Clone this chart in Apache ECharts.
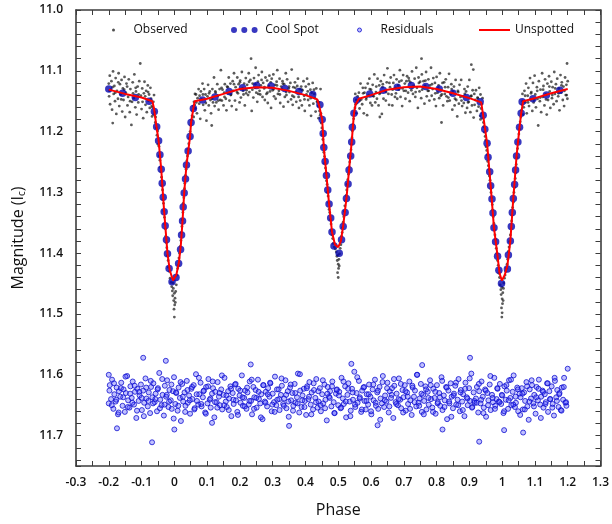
<!DOCTYPE html>
<html>
<head>
<meta charset="utf-8">
<script src="https://cdn.jsdelivr.net/npm/echarts@6/dist/echarts.min.js"></script>
<style>html,body{margin:0;padding:0;background:#fff;}#c{width:612px;height:524px;}</style>
</head>
<body>
<div id="c"></div>
<script>
// ---- Axis ticks ----
var xMin = -0.3, xMax = 1.3, xTickStep = 0.05;
var yMin = 11.0, yMax = 11.75, yTickStep = 0.02;

// ---- Cool Spot model points [phase, magnitude] ----
var coolSpot = [
[-0.200,11.130],[-0.158,11.137],[-0.119,11.144],[-0.077,11.150],
[-0.061,11.167],[-0.054,11.192],[-0.048,11.215],[-0.044,11.238],[-0.040,11.262],[-0.037,11.285],[-0.034,11.308],[-0.031,11.332],[-0.028,11.355],[-0.024,11.378],[-0.021,11.401],[-0.016,11.425],[-0.007,11.447],
[0.005,11.440],[0.013,11.417],[0.019,11.394],[0.022,11.370],[0.025,11.347],[0.027,11.324],[0.030,11.301],[0.034,11.278],[0.037,11.255],[0.042,11.232],[0.048,11.208],[0.051,11.185],[0.058,11.162],
[0.086,11.148],[0.124,11.143],[0.167,11.134],[0.208,11.128],[0.251,11.124],[0.295,11.125],[0.337,11.129],[0.380,11.134],[0.422,11.139],
[0.444,11.156],[0.451,11.180],[0.454,11.203],[0.456,11.226],[0.460,11.249],[0.464,11.272],[0.468,11.296],[0.472,11.319],[0.477,11.342],[0.481,11.365],[0.487,11.388],[0.503,11.400],
[0.510,11.378],[0.515,11.356],[0.521,11.333],[0.525,11.310],[0.530,11.286],[0.533,11.263],[0.538,11.240],[0.541,11.217],[0.543,11.193],[0.548,11.170],[0.556,11.148],
[0.596,11.138],[0.637,11.132],[0.680,11.127],[0.723,11.124],[0.767,11.126],[0.808,11.130],[0.850,11.137],[0.891,11.144],
[0.933,11.151],[0.942,11.173],[0.947,11.196],[0.954,11.219],[0.957,11.242],[0.962,11.266],[0.965,11.289],[0.969,11.311],[0.972,11.334],[0.975,11.358],[0.980,11.381],[0.986,11.405],[0.990,11.428],[0.998,11.450],
[1.016,11.426],[1.019,11.403],[1.025,11.380],[1.028,11.356],[1.031,11.333],[1.034,11.310],[1.038,11.287],[1.041,11.263],[1.044,11.240],[1.048,11.217],[1.053,11.193],[1.058,11.170],[1.061,11.151],
[1.094,11.146],[1.135,11.140],[1.176,11.132]
];

// ---- Unspotted model curve [phase, magnitude] ----
var unspotted = [
[-0.200,11.131],[-0.150,11.138],[-0.100,11.144],[-0.067,11.150],[-0.062,11.162],[-0.055,11.190],[-0.048,11.215],[-0.040,11.262],[-0.031,11.332],[-0.021,11.400],[-0.014,11.428],[-0.004,11.445],
[0.006,11.436],[0.014,11.415],[0.020,11.385],[0.025,11.347],[0.030,11.301],[0.037,11.255],[0.048,11.208],[0.051,11.185],[0.058,11.162],[0.062,11.150],
[0.100,11.146],[0.150,11.138],[0.200,11.130],[0.250,11.127],[0.300,11.128],[0.350,11.133],[0.400,11.140],[0.436,11.147],
[0.442,11.158],[0.451,11.180],[0.456,11.226],[0.464,11.272],[0.472,11.319],[0.481,11.365],[0.490,11.386],[0.500,11.390],[0.508,11.380],[0.515,11.355],[0.525,11.310],[0.533,11.263],[0.541,11.217],[0.548,11.170],[0.553,11.155],[0.563,11.146],
[0.600,11.140],[0.650,11.131],[0.700,11.127],[0.750,11.126],[0.800,11.130],[0.850,11.137],[0.900,11.145],[0.936,11.152],
[0.942,11.173],[0.954,11.219],[0.965,11.289],[0.975,11.358],[0.986,11.405],[0.992,11.433],[0.999,11.445],[1.008,11.436],[1.016,11.420],[1.025,11.380],[1.034,11.310],[1.044,11.240],[1.053,11.193],[1.058,11.170],[1.064,11.150],
[1.100,11.145],[1.150,11.137],[1.200,11.130]
];

// ---- Observed photometry [phase, magnitude] ----
var observed = [
[-0.200,11.121],[-0.199,11.142],[-0.197,11.108],[-0.196,11.155],[-0.194,11.131],[-0.192,11.117],[-0.190,11.164],[-0.188,11.186],[-0.187,11.101],[-0.185,11.138],[-0.183,11.125],[-0.181,11.150],[-0.179,11.112],[-0.177,11.171],[-0.175,11.133],[-0.172,11.146],[-0.170,11.104],[-0.168,11.158],[-0.166,11.122],[-0.164,11.139],[-0.161,11.115],[-0.159,11.167],[-0.157,11.129],[-0.155,11.148],[-0.152,11.110],[-0.150,11.176],[-0.148,11.136],[-0.146,11.121],[-0.143,11.157],[-0.141,11.143],[-0.139,11.114],[-0.136,11.168],[-0.134,11.130],[-0.131,11.189],[-0.129,11.151],[-0.127,11.119],[-0.124,11.145],[-0.122,11.106],[-0.119,11.160],[-0.117,11.134],[-0.115,11.172],[-0.112,11.126],[-0.110,11.152],[-0.107,11.117],[-0.104,11.088],[-0.102,11.141],[-0.100,11.163],[-0.098,11.129],[-0.095,11.178],[-0.093,11.137],[-0.091,11.118],[-0.088,11.156],[-0.086,11.133],[-0.084,11.168],[-0.081,11.124],[-0.079,11.149],[-0.077,11.139],[-0.075,11.161],[-0.073,11.128],[-0.071,11.146],[-0.069,11.158],
[-0.198,11.133],[-0.189,11.127],[-0.180,11.136],[-0.171,11.119],[-0.162,11.147],[-0.153,11.131],[-0.144,11.126],[-0.135,11.150],[-0.126,11.137],[-0.118,11.128],[-0.109,11.139],[-0.097,11.151],[-0.089,11.142],[-0.080,11.135],
[-0.066,11.160],[-0.064,11.151],[-0.063,11.172],[-0.060,11.168],[-0.058,11.185],[-0.057,11.176],[-0.055,11.194],[-0.053,11.206],[-0.051,11.199],[-0.050,11.221],[-0.047,11.224],[-0.046,11.240],[-0.044,11.247],[-0.043,11.259],[-0.041,11.266],[-0.039,11.275],[-0.038,11.289],[-0.036,11.296],[-0.035,11.312],[-0.033,11.318],[-0.032,11.330],[-0.030,11.341],[-0.029,11.352],[-0.027,11.360],[-0.026,11.372],[-0.024,11.383],[-0.023,11.391],[-0.021,11.404],[-0.019,11.412],[-0.018,11.423],[-0.015,11.430],[-0.013,11.441],
[-0.010,11.448],[-0.008,11.455],[-0.006,11.462],[-0.005,11.470],[-0.003,11.458],[-0.002,11.478],[0.000,11.466],[0.001,11.485],[0.002,11.474],[-0.001,11.492],[0.003,11.481],[0.004,11.463],[0.000,11.505],[0.006,11.452],[-0.004,11.449],
[0.008,11.436],[0.010,11.425],[0.012,11.420],[0.014,11.408],[0.016,11.400],[0.018,11.389],[0.020,11.379],[0.021,11.366],[0.023,11.356],[0.024,11.345],[0.026,11.333],[0.027,11.318],[0.029,11.309],[0.031,11.294],[0.032,11.285],[0.034,11.272],[0.036,11.262],[0.038,11.248],[0.040,11.240],[0.042,11.229],[0.044,11.220],[0.046,11.211],[0.048,11.200],[0.050,11.190],[0.052,11.181],[0.054,11.174],[0.056,11.166],[0.058,11.158],[0.060,11.151],[0.062,11.156],
[-0.068,11.175],[-0.062,11.140],[0.059,11.176],[0.063,11.138],
[0.064,11.162],[0.066,11.139],[0.069,11.170],[0.071,11.145],[0.074,11.130],[0.076,11.154],[0.079,11.179],[0.081,11.134],[0.083,11.147],[0.086,11.121],[0.088,11.156],[0.091,11.130],[0.093,11.165],[0.095,11.139],[0.098,11.182],[0.101,11.142],[0.103,11.123],[0.105,11.157],[0.108,11.134],[0.110,11.148],[0.112,11.170],[0.114,11.190],[0.116,11.130],[0.118,11.152],[0.121,11.111],[0.123,11.158],[0.126,11.136],[0.128,11.152],[0.131,11.122],[0.133,11.141],[0.135,11.164],[0.138,11.130],[0.140,11.148],[0.142,11.099],[0.145,11.149],[0.147,11.131],[0.150,11.157],[0.152,11.136],[0.154,11.122],[0.157,11.146],[0.159,11.165],[0.161,11.126],[0.164,11.137],[0.166,11.111],[0.168,11.149],[0.171,11.121],[0.173,11.139],[0.175,11.158],[0.178,11.117],[0.180,11.133],[0.182,11.104],[0.185,11.149],[0.187,11.127],[0.189,11.164],[0.192,11.111],[0.194,11.137],[0.196,11.122],[0.199,11.152],[0.201,11.116],[0.203,11.144],[0.206,11.102],[0.208,11.129],[0.211,11.139],[0.213,11.121],[0.215,11.157],[0.218,11.112],[0.220,11.132],[0.222,11.123],[0.225,11.140],[0.227,11.104],[0.229,11.135],[0.232,11.115],[0.234,11.080],[0.236,11.166],[0.239,11.121],[0.241,11.144],[0.243,11.112],[0.246,11.128],[0.248,11.095],[0.250,11.136],[0.253,11.151],[0.255,11.118],[0.257,11.107],[0.260,11.133],[0.262,11.139],[0.264,11.124],[0.267,11.102],[0.269,11.143],[0.271,11.120],[0.274,11.129],[0.276,11.148],[0.278,11.111],[0.281,11.138],[0.283,11.116],[0.285,11.153],[0.288,11.125],[0.290,11.108],[0.292,11.134],[0.295,11.161],[0.297,11.113],[0.300,11.132],[0.302,11.106],[0.304,11.142],[0.307,11.123],[0.309,11.146],[0.312,11.118],[0.314,11.099],[0.316,11.138],[0.319,11.133],[0.321,11.113],[0.323,11.153],[0.326,11.126],[0.328,11.130],[0.330,11.117],[0.333,11.159],[0.335,11.122],[0.337,11.143],[0.340,11.104],[0.342,11.140],[0.344,11.114],[0.347,11.151],[0.349,11.129],[0.351,11.135],[0.354,11.120],[0.356,11.147],[0.358,11.098],[0.361,11.156],[0.363,11.127],[0.365,11.143],[0.368,11.119],[0.370,11.135],[0.372,11.151],[0.375,11.125],[0.377,11.113],[0.380,11.161],[0.382,11.130],[0.384,11.149],[0.387,11.126],[0.389,11.157],[0.391,11.132],[0.394,11.117],[0.396,11.141],[0.398,11.166],[0.401,11.126],[0.403,11.139],[0.405,11.113],[0.408,11.148],[0.410,11.122],[0.412,11.157],[0.415,11.131],[0.417,11.174],[0.419,11.136],[0.422,11.120],[0.424,11.154],[0.426,11.131],[0.429,11.145],[0.431,11.167],[0.433,11.129],[0.435,11.151],
[0.067,11.152],[0.077,11.141],[0.087,11.139],[0.096,11.153],[0.106,11.137],[0.115,11.146],[0.125,11.134],[0.134,11.149],[0.144,11.128],[0.153,11.143],[0.163,11.127],[0.172,11.140],[0.182,11.122],[0.191,11.135],[0.200,11.119],[0.210,11.133],[0.219,11.137],[0.228,11.118],[0.238,11.131],[0.247,11.122],[0.256,11.138],[0.266,11.115],[0.275,11.127],[0.284,11.136],[0.294,11.119],[0.303,11.130],[0.313,11.124],[0.322,11.139],[0.331,11.121],[0.341,11.135],[0.350,11.126],[0.360,11.141],[0.369,11.128],[0.379,11.143],[0.388,11.131],[0.397,11.147],[0.407,11.134],[0.416,11.145],[0.427,11.138],
[0.437,11.150],[0.439,11.158],[0.441,11.152],[0.443,11.166],[0.445,11.173],[0.447,11.170],[0.448,11.186],[0.450,11.194],[0.452,11.205],[0.453,11.213],[0.455,11.222],[0.456,11.234],[0.458,11.241],[0.459,11.252],[0.461,11.260],[0.463,11.268],[0.464,11.281],[0.466,11.287],[0.467,11.300],[0.469,11.306],[0.471,11.317],[0.472,11.328],[0.474,11.333],[0.476,11.345],[0.478,11.352],[0.479,11.363],[0.481,11.370],[0.483,11.376],[0.485,11.384],[0.488,11.390],[0.491,11.393],
[0.494,11.398],[0.496,11.405],[0.497,11.412],[0.499,11.403],[0.500,11.418],[0.501,11.425],[0.502,11.410],[0.498,11.432],[0.503,11.421],[0.500,11.440],[0.504,11.401],
[0.506,11.392],[0.508,11.386],[0.510,11.372],[0.512,11.366],[0.513,11.358],[0.515,11.349],[0.517,11.340],[0.519,11.331],[0.520,11.322],[0.522,11.314],[0.524,11.305],[0.526,11.296],[0.527,11.287],[0.529,11.279],[0.531,11.270],[0.533,11.258],[0.535,11.250],[0.537,11.241],[0.539,11.230],[0.540,11.221],[0.542,11.210],[0.543,11.199],[0.545,11.188],[0.547,11.179],[0.549,11.169],[0.551,11.161],[0.553,11.155],[0.555,11.148],[0.557,11.153],[0.559,11.142],
[0.446,11.130],[0.552,11.138],[0.556,11.170],[0.440,11.178],
[0.563,11.136],[0.565,11.162],[0.568,11.121],[0.570,11.147],[0.573,11.155],[0.575,11.128],[0.578,11.170],[0.580,11.136],[0.583,11.128],[0.585,11.147],[0.588,11.173],[0.590,11.121],[0.593,11.140],[0.595,11.113],[0.598,11.153],[0.600,11.131],[0.603,11.157],[0.605,11.123],[0.608,11.142],[0.610,11.106],[0.613,11.152],[0.615,11.135],[0.618,11.146],[0.620,11.113],[0.623,11.157],[0.625,11.124],[0.627,11.176],[0.628,11.136],[0.630,11.117],[0.633,11.171],[0.635,11.127],[0.638,11.146],[0.640,11.107],[0.643,11.133],[0.645,11.149],[0.648,11.119],[0.650,11.096],[0.653,11.138],[0.655,11.156],[0.658,11.127],[0.660,11.111],[0.663,11.139],[0.665,11.157],[0.668,11.120],[0.670,11.107],[0.673,11.143],[0.675,11.128],[0.678,11.114],[0.680,11.146],[0.683,11.124],[0.685,11.131],[0.688,11.099],[0.690,11.143],[0.693,11.116],[0.695,11.158],[0.698,11.107],[0.700,11.133],[0.703,11.121],[0.705,11.146],[0.708,11.117],[0.710,11.109],[0.713,11.136],[0.715,11.112],[0.718,11.150],[0.720,11.119],[0.723,11.132],[0.725,11.101],[0.728,11.138],[0.730,11.125],[0.733,11.113],[0.735,11.143],[0.738,11.095],[0.740,11.128],[0.743,11.161],[0.745,11.111],[0.748,11.134],[0.750,11.118],[0.753,11.145],[0.754,11.080],[0.755,11.106],[0.758,11.127],[0.760,11.117],[0.763,11.154],[0.765,11.125],[0.768,11.102],[0.770,11.142],[0.773,11.133],[0.775,11.114],[0.778,11.149],[0.780,11.124],[0.783,11.095],[0.785,11.141],[0.788,11.130],[0.790,11.112],[0.793,11.147],[0.795,11.120],[0.798,11.158],[0.800,11.110],[0.803,11.136],[0.805,11.128],[0.808,11.145],[0.810,11.104],[0.813,11.141],[0.815,11.185],[0.818,11.120],[0.820,11.157],[0.823,11.119],[0.825,11.138],[0.828,11.114],[0.830,11.142],[0.833,11.150],[0.835,11.127],[0.838,11.105],[0.840,11.149],[0.843,11.138],[0.845,11.122],[0.848,11.164],[0.850,11.134],[0.853,11.126],[0.855,11.157],[0.858,11.115],[0.860,11.148],[0.863,11.175],[0.865,11.133],[0.868,11.154],[0.870,11.123],[0.873,11.143],[0.875,11.115],[0.878,11.158],[0.880,11.142],[0.883,11.153],[0.885,11.130],[0.888,11.169],[0.890,11.134],[0.893,11.161],[0.895,11.126],[0.898,11.151],[0.900,11.115],[0.903,11.168],[0.905,11.142],[0.906,11.090],[0.908,11.157],[0.910,11.132],[0.912,11.098],[0.913,11.177],[0.915,11.138],[0.918,11.148],[0.920,11.132],[0.923,11.166],[0.925,11.144],[0.928,11.159],[0.930,11.128],[0.933,11.174],[0.934,11.139],
[0.566,11.149],[0.576,11.137],[0.586,11.144],[0.596,11.130],[0.606,11.141],[0.616,11.126],[0.626,11.138],[0.636,11.122],[0.646,11.135],[0.656,11.120],[0.666,11.131],[0.676,11.137],[0.686,11.118],[0.696,11.129],[0.706,11.133],[0.716,11.116],[0.726,11.127],[0.736,11.135],[0.746,11.120],[0.756,11.131],[0.766,11.116],[0.776,11.133],[0.786,11.122],[0.796,11.137],[0.806,11.124],[0.816,11.139],[0.826,11.127],[0.836,11.144],[0.846,11.130],[0.856,11.146],[0.866,11.135],[0.876,11.149],[0.886,11.138],[0.896,11.152],[0.906,11.141],[0.916,11.156],[0.926,11.145],
[0.936,11.162],[0.938,11.155],[0.939,11.170],[0.941,11.178],[0.943,11.185],[0.944,11.192],[0.946,11.201],[0.948,11.208],[0.950,11.214],[0.951,11.225],[0.953,11.231],[0.955,11.238],[0.956,11.249],[0.958,11.256],[0.960,11.262],[0.961,11.273],[0.963,11.280],[0.965,11.294],[0.966,11.300],[0.968,11.309],[0.970,11.320],[0.971,11.329],[0.973,11.340],[0.975,11.351],[0.976,11.362],[0.978,11.370],[0.980,11.377],[0.982,11.392],[0.984,11.400],[0.986,11.412],[0.988,11.420],[0.990,11.433],[0.992,11.440],
[0.994,11.452],[0.996,11.460],[0.997,11.468],[0.999,11.456],[1.000,11.475],[1.001,11.483],[1.002,11.465],[0.998,11.490],[1.003,11.478],[1.000,11.498],[1.004,11.458],[0.999,11.505],[1.005,11.449],
[1.007,11.441],[1.009,11.436],[1.011,11.430],[1.013,11.425],[1.015,11.418],[1.017,11.410],[1.019,11.397],[1.021,11.390],[1.023,11.381],[1.025,11.370],[1.027,11.360],[1.029,11.347],[1.030,11.338],[1.032,11.325],[1.034,11.316],[1.036,11.300],[1.038,11.292],[1.040,11.277],[1.041,11.268],[1.043,11.254],[1.045,11.243],[1.047,11.228],[1.049,11.217],[1.051,11.204],[1.053,11.196],[1.055,11.184],[1.057,11.176],[1.059,11.165],[1.061,11.156],[1.063,11.150],
[0.934,11.180],[0.940,11.145],[1.062,11.138],[1.064,11.172],
[1.066,11.160],[1.068,11.133],[1.071,11.152],[1.073,11.121],[1.075,11.170],[1.078,11.141],[1.080,11.128],[1.082,11.158],[1.085,11.112],[1.087,11.147],[1.089,11.135],[1.092,11.166],[1.094,11.120],[1.096,11.152],[1.099,11.108],[1.101,11.139],[1.103,11.160],[1.106,11.127],[1.108,11.146],[1.110,11.190],[1.112,11.117],[1.115,11.150],[1.117,11.131],[1.119,11.168],[1.122,11.104],[1.124,11.143],[1.126,11.125],[1.129,11.157],[1.131,11.114],[1.133,11.139],[1.136,11.172],[1.138,11.121],[1.140,11.148],[1.143,11.109],[1.145,11.134],[1.147,11.161],[1.150,11.118],[1.152,11.145],[1.154,11.127],[1.157,11.155],[1.159,11.102],[1.161,11.138],[1.164,11.122],[1.166,11.150],[1.168,11.113],[1.171,11.142],[1.173,11.129],[1.175,11.165],[1.178,11.107],[1.180,11.136],[1.182,11.119],[1.185,11.148],[1.187,11.126],[1.189,11.158],[1.192,11.111],[1.194,11.140],[1.196,11.123],[1.198,11.088],[1.199,11.146],[1.200,11.117],
[1.070,11.141],[1.079,11.152],[1.088,11.137],[1.097,11.148],[1.107,11.133],[1.116,11.144],[1.125,11.131],[1.134,11.147],[1.144,11.126],[1.153,11.140],[1.162,11.129],[1.172,11.137],[1.181,11.124],[1.190,11.133],[1.197,11.140]
];

// ---- Residuals (offset) [phase, magnitude] ----
var residuals = [
[-0.200,11.647],[-0.197,11.617],[-0.193,11.640],[-0.190,11.608],[-0.186,11.656],[-0.183,11.632],[-0.179,11.644],[-0.176,11.621],[-0.172,11.665],[-0.169,11.627],[-0.165,11.636],[-0.162,11.613],[-0.158,11.651],[-0.155,11.624],[-0.151,11.661],[-0.148,11.630],[-0.144,11.602],[-0.141,11.642],[-0.137,11.654],[-0.134,11.619],
[-0.130,11.638],[-0.127,11.611],[-0.123,11.649],[-0.120,11.628],[-0.116,11.671],[-0.113,11.623],[-0.109,11.643],[-0.106,11.634],[-0.102,11.616],[-0.099,11.658],[-0.095,11.626],[-0.092,11.646],[-0.088,11.606],[-0.085,11.639],[-0.081,11.652],[-0.078,11.629],[-0.074,11.663],[-0.071,11.620],[-0.067,11.637],[-0.064,11.614],
[-0.060,11.645],[-0.057,11.631],[-0.053,11.660],[-0.050,11.622],[-0.046,11.597],[-0.043,11.641],[-0.039,11.650],[-0.036,11.633],[-0.032,11.667],[-0.029,11.618],[-0.025,11.636],[-0.022,11.609],[-0.018,11.653],[-0.015,11.625],[-0.011,11.642],[-0.008,11.656],[-0.004,11.627],[-0.001,11.604],[0.003,11.648],[0.006,11.630],
[0.010,11.659],[0.013,11.621],[0.017,11.638],[0.020,11.676],[0.024,11.615],[0.027,11.644],[0.031,11.629],[0.034,11.651],[0.038,11.610],[0.041,11.646],[0.045,11.634],[0.048,11.664],[0.052,11.623],[0.055,11.640],[0.059,11.617],[0.062,11.655],[0.066,11.599],[0.069,11.643],[0.073,11.649],[0.076,11.632],
[0.080,11.613],[0.083,11.652],[0.087,11.637],[0.090,11.626],[0.094,11.662],[0.097,11.620],[0.101,11.647],[0.104,11.607],[0.108,11.641],[0.111,11.654],[0.115,11.631],[0.118,11.622],[0.122,11.670],[0.125,11.628],[0.129,11.645],[0.132,11.612],[0.136,11.636],[0.139,11.650],[0.143,11.624],[0.146,11.657],
[0.150,11.633],[0.153,11.605],[0.157,11.644],[0.160,11.653],[0.164,11.627],[0.167,11.639],[0.171,11.619],[0.174,11.668],[0.178,11.630],[0.181,11.648],[0.185,11.616],[0.188,11.642],[0.192,11.661],[0.195,11.623],[0.199,11.634],[0.202,11.646],[0.206,11.601],[0.209,11.651],[0.213,11.638],[0.216,11.626],
[0.220,11.656],[0.223,11.629],[0.227,11.649],[0.230,11.611],[0.234,11.643],[0.237,11.665],[0.241,11.620],[0.244,11.637],[0.248,11.625],[0.251,11.654],[0.255,11.608],[0.258,11.640],[0.262,11.647],[0.265,11.632],[0.269,11.673],[0.272,11.617],[0.276,11.644],[0.279,11.628],[0.283,11.652],[0.286,11.622],
[0.290,11.636],[0.293,11.614],[0.297,11.660],[0.300,11.631],[0.304,11.645],[0.307,11.603],[0.311,11.650],[0.314,11.641],[0.318,11.624],[0.321,11.658],[0.325,11.633],[0.328,11.618],[0.332,11.648],[0.335,11.639],[0.339,11.609],[0.342,11.655],[0.346,11.627],[0.349,11.669],[0.353,11.621],[0.356,11.642],
[0.360,11.630],[0.363,11.651],[0.367,11.615],[0.370,11.646],[0.374,11.637],[0.377,11.598],[0.381,11.662],[0.384,11.626],[0.388,11.653],[0.391,11.634],[0.395,11.623],[0.398,11.643],[0.402,11.666],[0.405,11.619],[0.409,11.640],[0.412,11.612],[0.416,11.649],[0.419,11.629],[0.423,11.657],[0.426,11.625],
[0.430,11.638],[0.433,11.607],[0.437,11.654],[0.440,11.644],[0.444,11.622],[0.447,11.660],[0.451,11.632],[0.454,11.647],[0.458,11.616],[0.461,11.641],[0.465,11.675],[0.468,11.620],[0.472,11.636],[0.475,11.627],[0.479,11.652],[0.482,11.611],[0.486,11.645],[0.489,11.663],[0.493,11.631],[0.496,11.624],
[0.500,11.650],[0.503,11.628],[0.507,11.655],[0.510,11.605],[0.514,11.639],[0.517,11.648],[0.521,11.619],[0.524,11.670],[0.528,11.633],[0.531,11.614],[0.535,11.644],[0.538,11.659],[0.542,11.623],[0.545,11.641],[0.549,11.595],[0.552,11.653],[0.556,11.630],[0.559,11.646],[0.563,11.610],[0.566,11.637],
[0.570,11.661],[0.573,11.626],[0.577,11.621],[0.580,11.643],[0.584,11.657],[0.587,11.632],[0.591,11.649],[0.594,11.616],[0.598,11.636],[0.601,11.665],[0.605,11.624],[0.608,11.642],[0.612,11.608],[0.615,11.651],[0.619,11.629],[0.622,11.656],[0.626,11.620],[0.629,11.639],[0.633,11.647],[0.636,11.602],
[0.640,11.653],[0.643,11.634],[0.647,11.644],[0.650,11.613],[0.654,11.662],[0.657,11.627],[0.661,11.638],[0.664,11.622],[0.668,11.671],[0.671,11.618],[0.675,11.645],[0.678,11.631],[0.682,11.650],[0.685,11.606],[0.689,11.641],[0.692,11.655],[0.696,11.625],[0.699,11.637],[0.703,11.617],[0.706,11.659],
[0.710,11.629],[0.713,11.648],[0.717,11.611],[0.720,11.642],[0.724,11.666],[0.727,11.621],[0.731,11.636],[0.734,11.626],[0.738,11.652],[0.741,11.600],[0.745,11.646],[0.748,11.639],[0.752,11.615],[0.755,11.661],[0.759,11.633],[0.762,11.643],[0.766,11.619],[0.769,11.657],[0.773,11.628],[0.776,11.649],
[0.780,11.609],[0.783,11.640],[0.787,11.654],[0.790,11.623],[0.794,11.638],[0.797,11.664],[0.801,11.617],[0.804,11.645],[0.808,11.630],[0.811,11.651],[0.815,11.604],[0.818,11.658],[0.822,11.634],[0.825,11.642],[0.829,11.620],[0.832,11.673],[0.836,11.626],[0.839,11.647],[0.843,11.614],[0.846,11.636],
[0.850,11.655],[0.853,11.631],[0.857,11.618],[0.860,11.649],[0.864,11.641],[0.867,11.607],[0.871,11.660],[0.874,11.625],[0.878,11.644],[0.881,11.632],[0.885,11.668],[0.888,11.613],[0.892,11.637],[0.895,11.650],[0.899,11.622],[0.902,11.643],[0.906,11.598],[0.909,11.653],[0.913,11.629],[0.916,11.646],
[0.920,11.639],[0.923,11.620],[0.927,11.662],[0.930,11.627],[0.934,11.647],[0.937,11.611],[0.941,11.636],[0.944,11.654],[0.948,11.624],[0.951,11.669],[0.955,11.630],[0.958,11.642],[0.962,11.616],[0.965,11.658],[0.969,11.633],[0.972,11.645],[0.976,11.605],[0.979,11.651],[0.983,11.640],[0.986,11.623],
[0.990,11.644],[0.993,11.615],[0.997,11.648],[1.000,11.634],[1.004,11.663],[1.007,11.619],[1.011,11.641],[1.014,11.626],[1.018,11.656],[1.021,11.609],[1.025,11.638],[1.028,11.650],[1.032,11.628],[1.035,11.601],[1.039,11.653],[1.042,11.646],[1.046,11.621],[1.049,11.660],[1.053,11.631],[1.056,11.637],
[1.060,11.622],[1.063,11.657],[1.067,11.629],[1.070,11.643],[1.074,11.612],[1.077,11.652],[1.081,11.674],[1.084,11.624],[1.088,11.639],[1.091,11.617],[1.095,11.647],[1.098,11.633],[1.102,11.664],[1.105,11.620],[1.109,11.642],[1.112,11.608],[1.116,11.649],[1.119,11.636],[1.123,11.626],[1.126,11.654],
[1.130,11.632],[1.133,11.645],[1.137,11.614],[1.140,11.661],[1.144,11.627],[1.147,11.640],[1.151,11.619],[1.154,11.648],[1.158,11.667],[1.161,11.610],[1.165,11.637],[1.168,11.625],[1.172,11.653],[1.175,11.630],[1.179,11.658],[1.182,11.621],[1.186,11.641],[1.189,11.605],[1.193,11.646],[1.196,11.651],
[-0.198,11.626],[-0.191,11.650],[-0.184,11.614],[-0.177,11.641],[-0.170,11.662],[-0.163,11.622],[-0.156,11.637],[-0.149,11.603],[-0.142,11.653],[-0.135,11.631],[-0.128,11.646],[-0.121,11.618],[-0.114,11.659],[-0.107,11.628],[-0.100,11.638],[-0.093,11.668],[-0.086,11.621],[-0.079,11.643],[-0.072,11.610],[-0.065,11.647],
[-0.058,11.640],[-0.051,11.624],[-0.044,11.655],[-0.037,11.607],[-0.030,11.649],[-0.023,11.633],[-0.016,11.644],[-0.009,11.616],[-0.002,11.672],[0.005,11.629],[0.012,11.651],[0.019,11.612],[0.026,11.636],[0.033,11.661],[0.040,11.625],[0.047,11.642],[0.054,11.620],[0.061,11.657],[0.068,11.632],[0.075,11.605],
[0.082,11.648],[0.089,11.627],[0.096,11.664],[0.103,11.619],[0.110,11.639],[0.117,11.611],[0.124,11.645],[0.131,11.654],[0.138,11.630],[0.145,11.601],[0.152,11.650],[0.159,11.634],[0.166,11.658],[0.173,11.623],[0.180,11.641],[0.187,11.615],[0.194,11.666],[0.201,11.626],[0.208,11.637],[0.215,11.652],
[0.222,11.621],[0.229,11.643],[0.236,11.608],[0.243,11.656],[0.250,11.638],[0.257,11.628],[0.264,11.670],[0.271,11.617],[0.278,11.646],[0.285,11.632],[0.292,11.613],[0.299,11.649],[0.306,11.661],[0.313,11.624],[0.320,11.640],[0.327,11.606],[0.334,11.651],[0.341,11.633],[0.348,11.644],[0.355,11.616],
[0.362,11.659],[0.369,11.630],[0.376,11.647],[0.383,11.599],[0.390,11.642],[0.397,11.653],[0.404,11.622],[0.411,11.636],[0.418,11.665],[0.425,11.614],[0.432,11.645],[0.439,11.627],[0.446,11.650],[0.453,11.609],[0.460,11.655],[0.467,11.631],[0.474,11.638],[0.481,11.619],[0.488,11.663],[0.495,11.625],
[0.502,11.634],[0.509,11.654],[0.516,11.611],[0.523,11.644],[0.530,11.623],[0.537,11.668],[0.544,11.629],[0.551,11.649],[0.558,11.604],[0.565,11.639],[0.572,11.657],[0.579,11.620],[0.586,11.643],[0.593,11.632],[0.600,11.660],[0.607,11.616],[0.614,11.646],[0.621,11.626],[0.628,11.674],[0.635,11.612],
[0.642,11.642],[0.649,11.622],[0.656,11.652],[0.663,11.633],[0.670,11.607],[0.677,11.648],[0.684,11.640],[0.691,11.615],[0.698,11.662],[0.705,11.627],[0.712,11.636],[0.719,11.656],[0.726,11.618],[0.733,11.645],[0.740,11.600],[0.747,11.651],[0.754,11.631],[0.761,11.665],[0.768,11.624],[0.775,11.638],
[0.782,11.617],[0.789,11.661],[0.796,11.628],[0.803,11.647],[0.810,11.637],[0.817,11.610],[0.824,11.653],[0.831,11.621],[0.838,11.644],[0.845,11.669],[0.852,11.634],[0.859,11.613],[0.866,11.650],[0.873,11.629],[0.880,11.658],[0.887,11.623],[0.894,11.639],[0.901,11.606],[0.908,11.654],[0.915,11.643],
[0.922,11.646],[0.929,11.615],[0.936,11.641],[0.943,11.663],[0.950,11.626],[0.957,11.650],[0.964,11.602],[0.971,11.638],[0.978,11.656],[0.985,11.622],[0.992,11.645],[0.999,11.633],[1.006,11.660],[1.013,11.617],[1.020,11.642],[1.027,11.608],[1.034,11.649],[1.041,11.636],[1.048,11.624],[1.055,11.666],
[1.062,11.631],[1.069,11.657],[1.076,11.619],[1.083,11.644],[1.090,11.609],[1.097,11.652],[1.104,11.637],[1.111,11.623],[1.118,11.671],[1.125,11.628],[1.132,11.648],[1.139,11.614],[1.146,11.640],[1.153,11.654],[1.160,11.605],[1.167,11.643],[1.174,11.632],[1.181,11.659],[1.188,11.620],[1.195,11.645],
[-0.175,11.688],[-0.095,11.572],[-0.068,11.711],[-0.026,11.577],[0.000,11.690],[0.115,11.679],[0.233,11.583],[0.350,11.684],[0.540,11.582],[0.620,11.683],[0.756,11.584],[0.818,11.690],[0.902,11.572],[0.930,11.710],[1.006,11.691],[1.064,11.695],[1.200,11.590],[-0.200,11.600]
];

var FONT = 'Open Sans';
var chart = echarts.init(document.getElementById('c'), null, {renderer: 'canvas'});

function xLabel(v) {
  var t = Math.round(v * 10);
  if (Math.abs(v * 10 - t) > 1e-6) return '';
  return String(t / 10);
}
function yLabel(v) {
  var t = Math.round(v * 10);
  if (Math.abs(v * 10 - t) > 1e-6) return '';
  return (t / 10).toFixed(1);
}
var axisLineStyle = {color: '#3c3c3c', width: 1.6};
var tickStyle = {show: true, inside: true, length: 5, lineStyle: {color: '#3c3c3c', width: 1}};
var TXT = '#111111';
var legendText = {fontFamily: FONT, fontSize: 12, color: TXT};
var cool3 = 'path://M3,0A3,3,0,1,1,3,6A3,3,0,1,1,3,0ZM13.3,0A3,3,0,1,1,13.3,6A3,3,0,1,1,13.3,0ZM23.6,0A3,3,0,1,1,23.6,6A3,3,0,1,1,23.6,0Z';
var COOL = '#0606b0';
var RES_FILL = 'rgba(60,60,255,0.4)', RES_EDGE = '#1010d0';

chart.setOption({
  animation: false,
  backgroundColor: '#ffffff',
  grid: {left: 76, right: 11, top: 10, bottom: 58, containLabel: false},
  legend: [
    {data: [{name: 'Observed', icon: 'circle', itemStyle: {color: '#222'}}], left: 112, top: 24, padding: 0, itemWidth: 30, itemHeight: 3, selectedMode: false, textStyle: legendText},
    {data: [{name: 'Cool Spot', icon: cool3, itemStyle: {color: COOL}}], left: 231, top: 24, padding: 0, itemWidth: 32, itemHeight: 6, selectedMode: false, textStyle: legendText},
    {data: [{name: 'Residuals', icon: 'circle', itemStyle: {color: RES_FILL, borderColor: RES_EDGE, borderWidth: 1}}], left: 357, top: 24, padding: 0, itemWidth: 32, itemHeight: 4, selectedMode: false, textStyle: legendText},
    {data: [{name: 'Unspotted', icon: 'rect', itemStyle: {color: '#ff0000', borderWidth: 0}}], left: 479, top: 24, padding: 0, itemWidth: 31, itemHeight: 2, selectedMode: false, textStyle: legendText}
  ],
  xAxis: [
    {type: 'value', min: xMin, max: xMax, interval: xTickStep, position: 'bottom',
     name: 'Phase', nameLocation: 'middle', nameGap: 36,
     nameTextStyle: {fontFamily: FONT, fontSize: 16, color: TXT},
     axisLine: {show: true, onZero: false, lineStyle: axisLineStyle},
     axisTick: tickStyle,
     axisLabel: {formatter: xLabel, margin: 11, fontFamily: FONT, fontSize: 12, fontWeight: 600, color: TXT},
     splitLine: {show: false}},
    {type: 'value', min: xMin, max: xMax, interval: xTickStep, position: 'top',
     axisLine: {show: true, onZero: false, lineStyle: axisLineStyle},
     axisTick: tickStyle, axisLabel: {show: false}, splitLine: {show: false}}
  ],
  yAxis: [
    {type: 'value', inverse: true, min: yMin, max: yMax, interval: yTickStep, position: 'left',
     name: 'Magnitude (I{s|c})', nameLocation: 'middle', nameGap: 49,
     nameTextStyle: {fontFamily: FONT, fontSize: 16, color: TXT,
       rich: {s: {fontFamily: FONT, fontSize: 10, color: TXT, verticalAlign: 'bottom', padding: [7, 0, 0, 0]}}},
     axisLine: {show: true, onZero: false, lineStyle: axisLineStyle},
     axisTick: tickStyle,
     axisLabel: {formatter: yLabel, margin: 13, fontFamily: FONT, fontSize: 12, fontWeight: 600, color: TXT},
     splitLine: {show: false}},
    {type: 'value', inverse: true, min: yMin, max: yMax, interval: yTickStep, position: 'right',
     axisLine: {show: true, onZero: false, lineStyle: axisLineStyle},
     axisTick: tickStyle, axisLabel: {show: false}, splitLine: {show: false}}
  ],
  series: [
    {name: 'Observed', type: 'scatter', data: observed, symbol: 'circle', symbolSize: 2.8,
     itemStyle: {color: 'rgba(15,15,15,0.85)'}, z: 2},
    {name: 'Cool Spot', type: 'scatter', data: coolSpot, symbol: 'circle', symbolSize: 7.5,
     itemStyle: {color: COOL}, z: 3},
    {name: 'Residuals', type: 'scatter', data: residuals, symbol: 'circle', symbolSize: 5,
     itemStyle: {color: RES_FILL, borderColor: RES_EDGE, borderWidth: 1}, z: 3},
    {name: 'Unspotted', type: 'line', data: unspotted, symbol: 'none', smooth: false,
     lineStyle: {color: '#ff0000', width: 2}, itemStyle: {color: '#ff0000'}, z: 4}
  ]
});
</script>
</body>
</html>
